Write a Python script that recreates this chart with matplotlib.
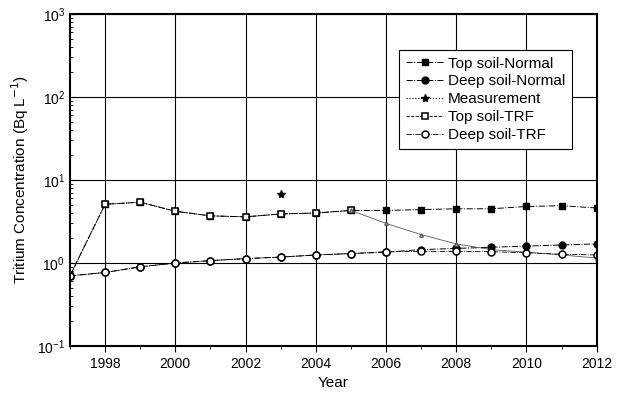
import matplotlib.pyplot as plt
from matplotlib.ticker import MultipleLocator, LogLocator, NullFormatter

plt.rcParams['font.family'] = ['Liberation Sans', 'DejaVu Sans']

years = list(range(1997, 2013))
top_normal = [0.7, 5.1, 5.4, 4.2, 3.7, 3.6, 3.9, 4.0, 4.3, 4.3, 4.4, 4.5, 4.5, 4.8, 4.9, 4.6]
deep_normal = [0.7, 0.77, 0.9, 1.0, 1.07, 1.13, 1.18, 1.25, 1.3, 1.35, 1.45, 1.5, 1.55, 1.6, 1.65, 1.7]
top_trf = [0.7, 5.1, 5.4, 4.2, 3.7, 3.6, 3.9, 4.0, 4.3, 3.0, 2.2, 1.7, 1.45, 1.35, 1.25, 1.15]
deep_trf = [0.7, 0.77, 0.9, 1.0, 1.07, 1.13, 1.18, 1.25, 1.3, 1.37, 1.38, 1.38, 1.37, 1.33, 1.28, 1.25]
meas_year = [2003]
meas_val = [6.7]

fig = plt.figure(figsize=(6.19, 3.96), dpi=100)
ax = fig.add_axes([0.113, 0.126, 0.851, 0.839])

ax.plot(years, top_normal, '-.', color='black', lw=0.7, marker='s', ms=5, label='Top soil-Normal')
ax.plot(years, deep_normal, '-.', color='black', lw=0.7, marker='o', ms=5, label='Deep soil-Normal')
ax.plot(meas_year, meas_val, ':', color='black', lw=0.8, marker='*', ms=6, label='Measurement')
ax.plot(years[:9], top_trf[:9], '--', color='black', lw=0.6, dashes=(4, 1.5), marker='s', ms=5,
        mfc='white', mew=1.1, label='Top soil-TRF')
ax.plot(years[8:], top_trf[8:], '-', color='0.35', lw=0.6, marker='^', ms=2.5, mfc='white')
ax.plot(years, deep_trf, '-.', color='black', lw=0.6, marker='o', ms=5, mfc='white', mew=1.1,
        label='Deep soil-TRF')

ax.set_yscale('log')
ax.set_ylim(0.1, 1000)
ax.set_xlim(1997, 2012)
ax.xaxis.set_major_locator(MultipleLocator(2))
ax.xaxis.set_minor_locator(MultipleLocator(1))
ax.yaxis.set_minor_locator(LogLocator(base=10, subs=range(2, 10)))
ax.yaxis.set_minor_formatter(NullFormatter())
ax.grid(True, which='major', color='black', lw=0.8)
ax.tick_params(axis='x', which='both', direction='out', labelsize=10)
ax.tick_params(axis='y', which='both', direction='in', labelsize=10)
ax.tick_params(which='major', length=4)
ax.tick_params(which='minor', length=2.5)
for s in ax.spines.values():
    s.set_linewidth(1.5)

ax.set_xlabel('Year', fontsize=11)
ax.set_ylabel(r'Tritium Concentration (Bq L$^{-1}$)', fontsize=11)

leg = ax.legend(loc='upper right', bbox_to_anchor=(0.967, 0.915), fontsize=11, frameon=True,
                fancybox=False, framealpha=1, edgecolor='black', handlelength=2.4,
                handletextpad=0.3, labelspacing=0.25, borderpad=0.45)
leg.get_frame().set_linewidth(0.8)

fig.savefig('out.png', dpi=100)
